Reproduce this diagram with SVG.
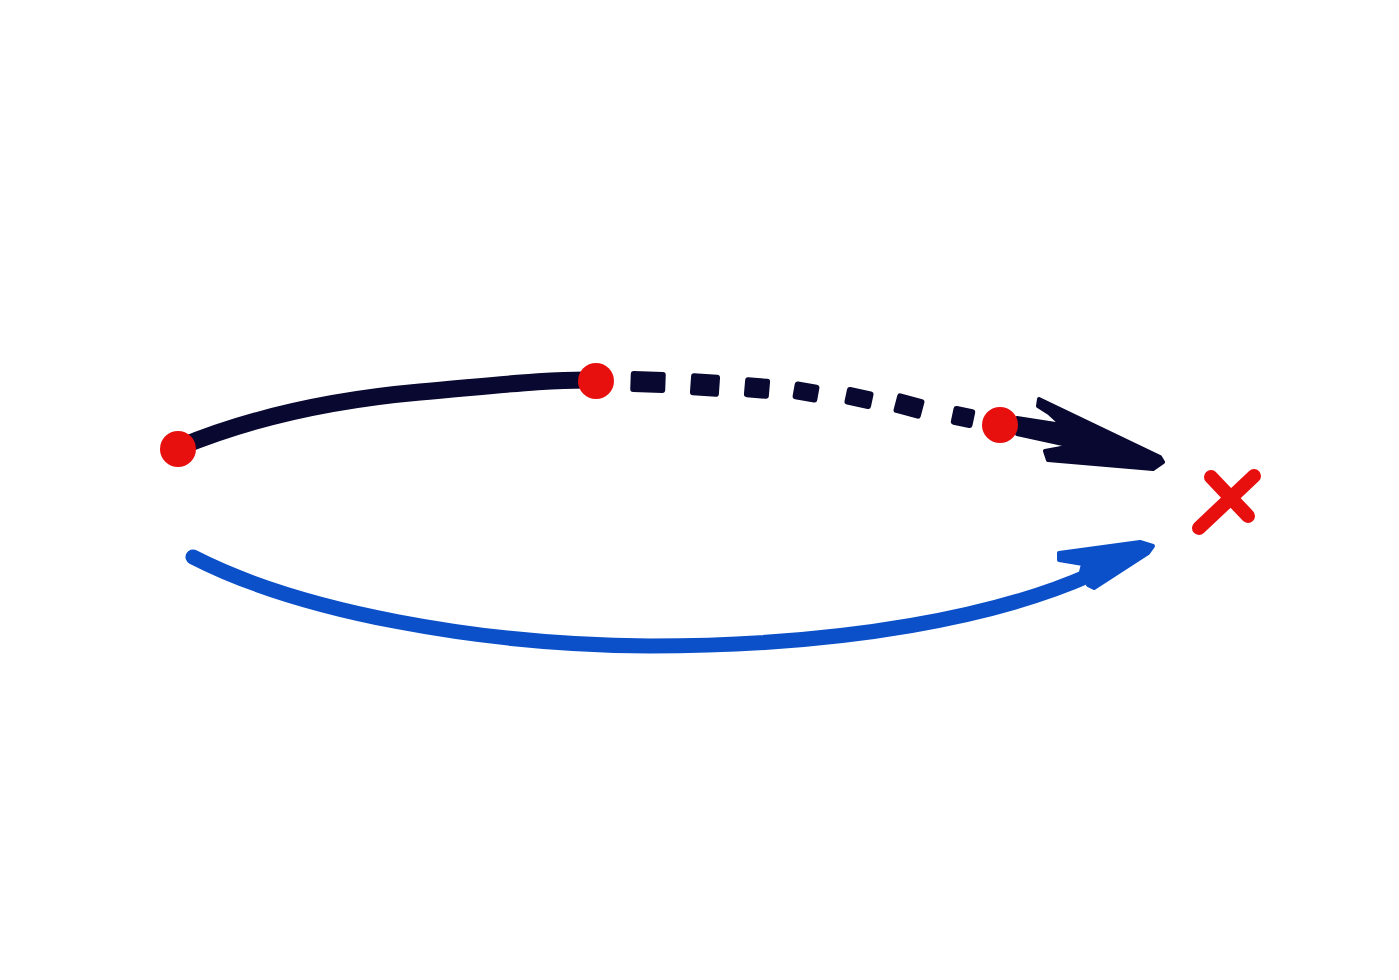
<svg xmlns="http://www.w3.org/2000/svg" width="1399" height="980" viewBox="0 0 1399 980">
<style>
.dark{fill:none;stroke:#080830;stroke-linecap:round;stroke-linejoin:round}
.darkf{fill:#080830;stroke:#080830;stroke-width:4;stroke-linejoin:round}
.blue{fill:none;stroke:#0b50c8;stroke-linecap:round;stroke-linejoin:round}
.bluef{fill:#0b50c8;stroke:#0b50c8;stroke-width:4;stroke-linejoin:round}
.dot{fill:#e80f0f}
.x{fill:none;stroke:#e80f0f;stroke-width:14;stroke-linecap:round}
</style>
<rect width="1399" height="980" fill="#ffffff"/>
<g id="dark-path">
<path class="dark" stroke-width="17" d="M180,447 C250,418 330,400 420,392 C500,385 550,379 596,380"/>
<g fill="#080830">
<rect x="-17.5" y="-10.5" width="35" height="21" rx="3" transform="translate(648,382) rotate(2)"/>
<rect x="-14.5" y="-11" width="29" height="22" rx="3" transform="translate(705,385) rotate(4)"/>
<rect x="-12.5" y="-10" width="25" height="20" rx="3" transform="translate(757,388) rotate(5)"/>
<rect x="-12.5" y="-9" width="25" height="18" rx="3" transform="translate(806,392) rotate(10)"/>
<rect x="-13.5" y="-9" width="27" height="18" rx="3" transform="translate(859,398) rotate(12)"/>
<rect x="-14" y="-10" width="28" height="20" rx="3" transform="translate(909,406) rotate(15)"/>
<rect x="-11" y="-9.5" width="22" height="19" rx="3" transform="translate(963,417) rotate(12)"/>
</g>
<polygon class="darkf" points="1039,399 1160,457 1163,462 1153,469 1048,460 1045,451 1072,446 1017,434 1017,418 1062,425 1049,413 1038,406"/>
</g>
<g id="blue-path">
<path class="blue" stroke-width="15" d="M193,557 C300,612 480,645 650,646 C850,646 1000,615 1090,575"/>
<polygon class="bluef" points="1059,553 1140,542 1153,546 1148,553 1094,588 1088,585 1100,570 1080,576 1083,564 1059,560"/>
</g>
<g id="points">
<circle class="dot" cx="178" cy="449" r="18"/>
<circle class="dot" cx="596" cy="381" r="18"/>
<circle class="dot" cx="1000" cy="425" r="18"/>
</g>
<g id="target">
<path class="x" d="M1211,477 L1248,516 M1254,476 L1199,528"/>
</g>
</svg>
